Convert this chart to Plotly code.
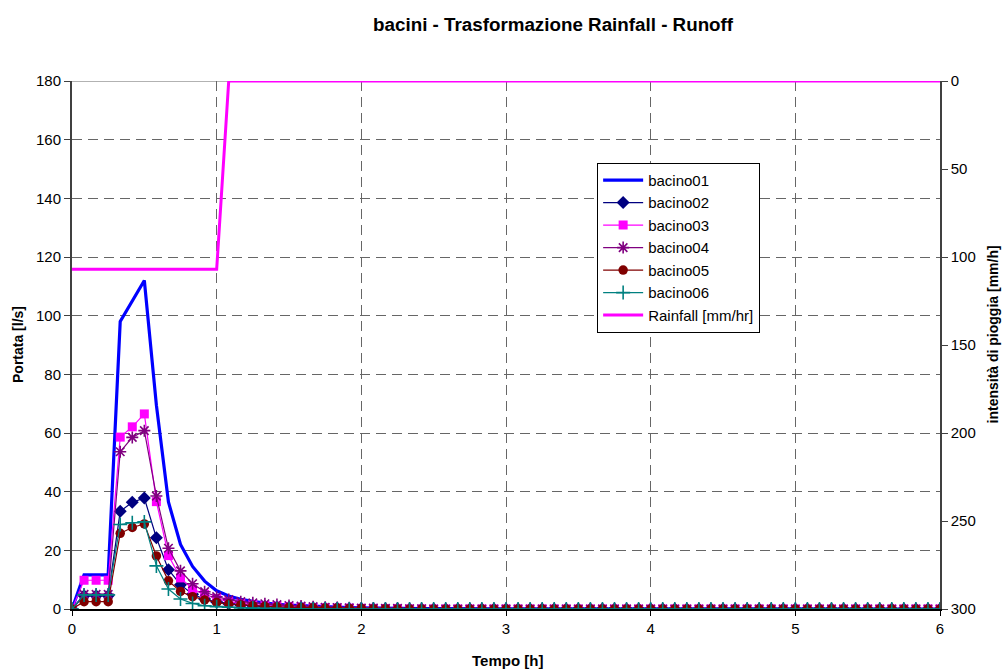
import plotly.graph_objects as go

# Time axis: one sample every 5 minutes over 6 hours
STEP_MIN = 5
tempo = [i * STEP_MIN / 60 for i in range(73)]

# Runoff discharge [l/s] per catchment
bacino01 = [0.0, 11.6, 11.6, 11.6, 98.0, 105.0, 112.0, 69.5, 36.5, 22.0, 14.5, 9.5,
            6.2, 4.4, 3.3, 2.6, 2.0, 1.6, 1.3, 1.1, 0.9, 0.7, 0.6, 0.5,
            0.4, 0.3, 0.3, 0.2, 0.2, 0.1, 0.1, 0.1, 0.0, 0.0, 0.0, 0.0,
            0.0, 0.0, 0.0, 0.0, 0.0, 0.0, 0.0, 0.0, 0.0, 0.0, 0.0, 0.0,
            0.0, 0.0, 0.0, 0.0, 0.0, 0.0, 0.0, 0.0, 0.0, 0.0, 0.0, 0.0,
            0.0, 0.0, 0.0, 0.0, 0.0, 0.0, 0.0, 0.0, 0.0, 0.0, 0.0, 0.0, 0.0]
bacino02 = [0.0, 4.5, 4.5, 4.5, 33.3, 36.4, 37.8, 24.3, 13.4, 8.3, 5.0, 3.4,
            2.4, 1.8, 1.4, 1.1, 0.9, 0.7, 0.6, 0.5, 0.4, 0.3, 0.3, 0.2,
            0.2, 0.1, 0.1, 0.1, 0.0, 0.0, 0.0, 0.0, 0.0, 0.0, 0.0, 0.0,
            0.0, 0.0, 0.0, 0.0, 0.0, 0.0, 0.0, 0.0, 0.0, 0.0, 0.0, 0.0,
            0.0, 0.0, 0.0, 0.0, 0.0, 0.0, 0.0, 0.0, 0.0, 0.0, 0.0, 0.0,
            0.0, 0.0, 0.0, 0.0, 0.0, 0.0, 0.0, 0.0, 0.0, 0.0, 0.0, 0.0, 0.0]
bacino03 = [0.0, 9.8, 9.8, 9.8, 58.6, 62.1, 66.5, 36.6, 18.2, 10.6, 6.8, 5.0,
            3.6, 2.5, 1.9, 1.5, 1.2, 1.0, 0.8, 0.6, 0.5, 0.4, 0.3, 0.3,
            0.2, 0.2, 0.1, 0.1, 0.0, 0.0, 0.0, 0.0, 0.0, 0.0, 0.0, 0.0,
            0.0, 0.0, 0.0, 0.0, 0.0, 0.0, 0.0, 0.0, 0.0, 0.0, 0.0, 0.0,
            0.0, 0.0, 0.0, 0.0, 0.0, 0.0, 0.0, 0.0, 0.0, 0.0, 0.0, 0.0,
            0.0, 0.0, 0.0, 0.0, 0.0, 0.0, 0.0, 0.0, 0.0, 0.0, 0.0, 0.0, 0.0]
bacino04 = [0.0, 5.0, 5.0, 5.0, 53.6, 58.5, 60.8, 38.5, 20.7, 13.0, 8.6, 5.9,
            4.2, 3.2, 2.5, 2.1, 1.8, 1.5, 1.2, 1.0, 0.8, 0.6, 0.5, 0.4,
            0.3, 0.3, 0.2, 0.2, 0.1, 0.1, 0.0, 0.0, 0.0, 0.0, 0.0, 0.0,
            0.0, 0.0, 0.0, 0.0, 0.0, 0.0, 0.0, 0.0, 0.0, 0.0, 0.0, 0.0,
            0.0, 0.0, 0.0, 0.0, 0.0, 0.0, 0.0, 0.0, 0.0, 0.0, 0.0, 0.0,
            0.0, 0.0, 0.0, 0.0, 0.0, 0.0, 0.0, 0.0, 0.0, 0.0, 0.0, 0.0, 0.0]
bacino05 = [0.0, 2.5, 2.5, 2.5, 25.8, 27.8, 29.0, 18.1, 9.6, 6.0, 4.2, 3.1,
            2.2, 1.7, 1.4, 1.1, 0.9, 0.7, 0.6, 0.5, 0.4, 0.3, 0.3, 0.2,
            0.2, 0.1, 0.1, 0.0, 0.0, 0.0, 0.0, 0.0, 0.0, 0.0, 0.0, 0.0,
            0.0, 0.0, 0.0, 0.0, 0.0, 0.0, 0.0, 0.0, 0.0, 0.0, 0.0, 0.0,
            0.0, 0.0, 0.0, 0.0, 0.0, 0.0, 0.0, 0.0, 0.0, 0.0, 0.0, 0.0,
            0.0, 0.0, 0.0, 0.0, 0.0, 0.0, 0.0, 0.0, 0.0, 0.0, 0.0, 0.0, 0.0]
bacino06 = [0.0, 4.8, 4.8, 4.8, 28.8, 29.4, 29.7, 14.7, 6.8, 3.4, 1.9, 1.1,
            0.8, 0.6, 0.4, 0.3, 0.2, 0.2, 0.1, 0.1, 0.0, 0.0, 0.0, 0.0,
            0.0, 0.0, 0.0, 0.0, 0.0, 0.0, 0.0, 0.0, 0.0, 0.0, 0.0, 0.0,
            0.0, 0.0, 0.0, 0.0, 0.0, 0.0, 0.0, 0.0, 0.0, 0.0, 0.0, 0.0,
            0.0, 0.0, 0.0, 0.0, 0.0, 0.0, 0.0, 0.0, 0.0, 0.0, 0.0, 0.0,
            0.0, 0.0, 0.0, 0.0, 0.0, 0.0, 0.0, 0.0, 0.0, 0.0, 0.0, 0.0, 0.0]

# Rainfall intensity [mm/h] (plotted on the reversed right axis)
rainfall = [107.0, 107.0, 107.0, 107.0, 107.0, 107.0, 107.0, 107.0, 107.0, 107.0, 107.0, 107.0,
            107.0, 0.0, 0.0, 0.0, 0.0, 0.0, 0.0, 0.0, 0.0, 0.0, 0.0, 0.0,
            0.0, 0.0, 0.0, 0.0, 0.0, 0.0, 0.0, 0.0, 0.0, 0.0, 0.0, 0.0,
            0.0, 0.0, 0.0, 0.0, 0.0, 0.0, 0.0, 0.0, 0.0, 0.0, 0.0, 0.0,
            0.0, 0.0, 0.0, 0.0, 0.0, 0.0, 0.0, 0.0, 0.0, 0.0, 0.0, 0.0,
            0.0, 0.0, 0.0, 0.0, 0.0, 0.0, 0.0, 0.0, 0.0, 0.0, 0.0, 0.0, 0.0]

FONT = "Liberation Sans, Arial, sans-serif"

# name, values, colour, marker symbol, marker size, line width
series = [
    ("bacino01", bacino01, "#0000FF", None, 0, 3.2),
    ("bacino02", bacino02, "#000080", "diamond", 10, 1.2),
    ("bacino03", bacino03, "#FF00FF", "square", 9, 1.2),
    ("bacino04", bacino04, "#800080", "asterisk-open", 10, 1.2),
    ("bacino05", bacino05, "#800000", "circle", 9.5, 1.2),
    ("bacino06", bacino06, "#008080", "cross-thin-open", 10, 1.2),
]

fig = go.Figure()
for name, vals, color, symbol, msize, lw in series:
    if symbol is None:
        mode = "lines"
        marker = None
    else:
        mode = "lines+markers"
        if symbol.endswith("-open"):
            marker = dict(symbol=symbol, size=msize, color=color,
                          line=dict(color=color, width=1.6))
        else:
            marker = dict(symbol=symbol, size=msize, color=color,
                          line=dict(width=0))
    fig.add_trace(go.Scatter(
        x=tempo, y=vals, name=name, mode=mode,
        line=dict(color=color, width=lw), marker=marker,
        legendgroup=name, yaxis="y",
    ))

fig.add_trace(go.Scatter(
    x=tempo, y=rainfall, name="Rainfall [mm/hr]", mode="lines",
    line=dict(color="#FF00FF", width=3), legendgroup="rain", yaxis="y2",
))

GRID = "#666666"
DASH = "10px,6px"

fig.update_layout(
    width=1002, height=669,
    margin=dict(l=72, r=62, t=81, b=60),
    paper_bgcolor="white", plot_bgcolor="white",
    font=dict(family=FONT, size=15, color="black"),
    showlegend=True,
    legend=dict(
        x=0.605, y=0.845, xanchor="left", yanchor="top",
        bgcolor="white", bordercolor="black", borderwidth=1,
        font=dict(family=FONT, size=15, color="black"),
        itemwidth=40, tracegroupgap=0, traceorder="normal",
    ),
    title=dict(
        text="<b>bacini - Trasformazione Rainfall - Runoff</b>",
        x=0.552, xref="container", xanchor="center",
        y=0.963, yref="container", yanchor="middle",
        font=dict(family=FONT, size=18.8, color="black"),
    ),
    xaxis=dict(
        range=[0, 6], tickvals=[0, 1, 2, 3, 4, 5, 6],
        showgrid=True, gridcolor=GRID, griddash=DASH, gridwidth=1,
        zeroline=False, showline=True, linecolor="black", linewidth=1.5,
        ticks="outside", ticklen=5, tickcolor="black",
        tickfont=dict(size=15),
    ),
    yaxis=dict(
        range=[0, 180], tickvals=list(range(0, 181, 20)),
        showgrid=True, gridcolor=GRID, griddash=DASH, gridwidth=1,
        zeroline=False, showline=True, linecolor="#404040", linewidth=2,
        ticks="outside", ticklen=6, tickcolor="#404040",
        tickfont=dict(size=15),
    ),
    yaxis2=dict(
        range=[300, 0], tickvals=[0, 50, 100, 150, 200, 250, 300],
        overlaying="y", side="right", showgrid=False, zeroline=False,
        showline=True, linecolor="#404040", linewidth=1.5,
        ticks="outside", ticklen=6, tickcolor="#404040",
        tickfont=dict(size=15),
    ),
    shapes=[
        dict(type="line", xref="x", yref="y", x0=0, x1=6, y0=180, y1=180,
             line=dict(color="#999999", width=1.5), layer="below"),
    ],
    annotations=[
        dict(text="<b>Portata [l/s]</b>", xref="paper", yref="paper",
             x=-0.0622, y=0.5, xanchor="center", yanchor="middle",
             textangle=-90, showarrow=False, font=dict(size=14)),
        dict(text="<b>Tempo [h]</b>", xref="paper", yref="paper",
             x=0.502, y=-0.0966, xanchor="center", yanchor="middle",
             showarrow=False, font=dict(size=15)),
        dict(text="<b>intensità di pioggia [mm/h]</b>", xref="paper", yref="paper",
             x=1.0611, y=0.52, xanchor="center", yanchor="middle",
             textangle=-90, showarrow=False, font=dict(size=14)),
    ],
)

fig.write_html("out.html")
